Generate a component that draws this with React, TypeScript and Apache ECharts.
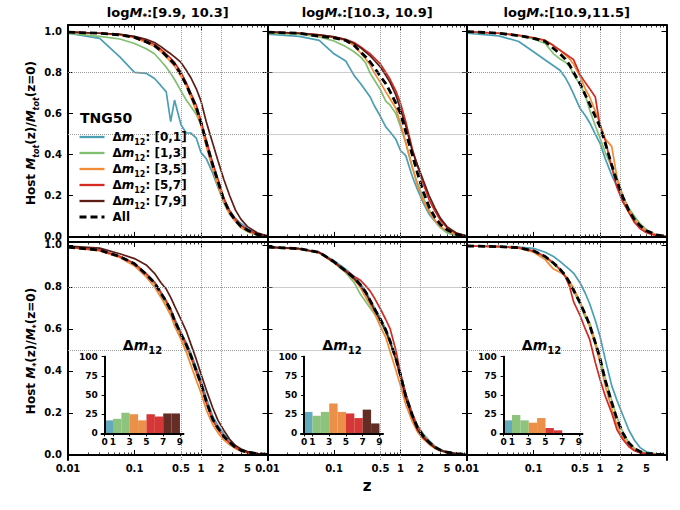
import React, { useEffect, useRef } from "react";
import * as echarts from "echarts";

// shared redshift sampling for every curve
const Z = [0.01, 0.03, 0.06, 0.1, 0.15, 0.2, 0.25, 0.3, 0.35, 0.4, 0.5, 0.6, 0.7, 0.85, 1.0, 1.2, 1.5, 1.8, 2.2, 2.7, 3.3, 4, 5, 7, 10];

const GROUPS = ["[0,1]", "[1,3]", "[3,5]", "[5,7]", "[7,9]", "All"];
const LINE_COLORS = ["#4a9fb4", "#80c070", "#f28a36", "#d42a22", "#5e1c14", "#000000"];
const BAR_COLORS = ["#56a3b6", "#82bf72", "#ea8539", "#d02624", "#561b14"];
const MASS_BINS = ["[9.9, 10.3]", "[10.3, 10.9]", "[10.9,11.5]"];

const X_MAJOR = [0.01, 0.1, 1, 10];
const X_MINOR = [0.02, 0.03, 0.04, 0.05, 0.06, 0.07, 0.08, 0.09, 0.2, 0.3, 0.4, 0.5, 0.6, 0.7, 0.8, 0.9, 2, 3, 4, 5, 6, 7, 8, 9];
const X_LABELS = [0.01, 0.1, 0.5, 1, 2, 5];
const Y_TICKS = [0, 0.2, 0.4, 0.6, 0.8, 1.0];
const X_GRIDLINES = [0.5, 1, 2];
const Y_GRIDLINES = [0.5, 0.8];

// host total mass fraction, top row
const totA_01 = [0.99, 0.965, 0.875, 0.8, 0.795, 0.77, 0.735, 0.705, 0.56, 0.665, 0.545, 0.505, 0.505, 0.48, 0.41, 0.38, 0.31, 0.24, 0.18, 0.13, 0.09, 0.065, 0.04, 0.015, 0.003];
const totA_13 = [0.99, 0.975, 0.962, 0.94, 0.915, 0.89, 0.855, 0.825, 0.795, 0.765, 0.71, 0.665, 0.635, 0.595, 0.545, 0.46, 0.33, 0.245, 0.165, 0.11, 0.075, 0.045, 0.025, 0.008, 0.002];
const totA_35 = [0.995, 0.99, 0.982, 0.968, 0.945, 0.925, 0.9, 0.875, 0.85, 0.83, 0.78, 0.735, 0.68, 0.61, 0.54, 0.44, 0.33, 0.25, 0.17, 0.11, 0.075, 0.045, 0.028, 0.01, 0.002];
const totA_57 = [0.995, 0.99, 0.984, 0.972, 0.952, 0.935, 0.912, 0.888, 0.868, 0.848, 0.8, 0.75, 0.7, 0.64, 0.565, 0.47, 0.36, 0.28, 0.19, 0.125, 0.085, 0.055, 0.035, 0.013, 0.003];
const totA_79 = [0.997, 0.99, 0.985, 0.975, 0.96, 0.945, 0.925, 0.905, 0.89, 0.875, 0.848, 0.81, 0.775, 0.72, 0.66, 0.56, 0.455, 0.37, 0.28, 0.2, 0.13, 0.085, 0.05, 0.02, 0.004];
const totA_all = [0.995, 0.99, 0.982, 0.97, 0.948, 0.93, 0.905, 0.88, 0.86, 0.84, 0.79, 0.74, 0.69, 0.63, 0.555, 0.46, 0.35, 0.27, 0.18, 0.12, 0.08, 0.05, 0.033, 0.012, 0.003];

const totB_01 = [0.985, 0.975, 0.955, 0.89, 0.855, 0.785, 0.746, 0.71, 0.68, 0.64, 0.585, 0.535, 0.51, 0.475, 0.42, 0.395, 0.295, 0.23, 0.165, 0.11, 0.075, 0.045, 0.022, 0.006, 0.001];
const totB_13 = [0.99, 0.985, 0.972, 0.952, 0.925, 0.9, 0.875, 0.845, 0.795, 0.765, 0.715, 0.66, 0.64, 0.6, 0.535, 0.455, 0.34, 0.26, 0.19, 0.13, 0.08, 0.045, 0.02, 0.006, 0.001];
const totB_35 = [0.995, 0.99, 0.978, 0.968, 0.955, 0.93, 0.895, 0.865, 0.835, 0.8, 0.75, 0.705, 0.67, 0.625, 0.55, 0.46, 0.34, 0.25, 0.175, 0.12, 0.08, 0.05, 0.03, 0.01, 0.002];
const totB_57 = [0.997, 0.99, 0.982, 0.972, 0.96, 0.945, 0.925, 0.905, 0.89, 0.872, 0.84, 0.8, 0.765, 0.71, 0.65, 0.56, 0.43, 0.345, 0.26, 0.18, 0.125, 0.08, 0.045, 0.015, 0.003];
const totB_79 = [0.997, 0.99, 0.982, 0.972, 0.958, 0.94, 0.92, 0.898, 0.88, 0.86, 0.825, 0.785, 0.75, 0.69, 0.62, 0.54, 0.42, 0.35, 0.275, 0.2, 0.14, 0.09, 0.05, 0.018, 0.004];
const totB_all = [0.995, 0.99, 0.975, 0.967, 0.955, 0.932, 0.9, 0.875, 0.85, 0.825, 0.78, 0.745, 0.705, 0.65, 0.6, 0.51, 0.4, 0.31, 0.22, 0.145, 0.095, 0.06, 0.035, 0.012, 0.003];

const totC_01 = [0.99, 0.977, 0.95, 0.9, 0.86, 0.832, 0.81, 0.775, 0.735, 0.695, 0.625, 0.59, 0.555, 0.5, 0.455, 0.38, 0.3, 0.245, 0.18, 0.12, 0.078, 0.05, 0.028, 0.008, 0.001];
const totC_13 = [0.995, 0.99, 0.978, 0.962, 0.94, 0.89, 0.865, 0.85, 0.828, 0.79, 0.74, 0.69, 0.617, 0.54, 0.48, 0.41, 0.34, 0.28, 0.197, 0.14, 0.1, 0.065, 0.035, 0.01, 0.002];
const totC_35 = [0.998, 0.99, 0.98, 0.968, 0.955, 0.93, 0.908, 0.885, 0.865, 0.84, 0.78, 0.72, 0.68, 0.61, 0.55, 0.475, 0.44, 0.29, 0.2, 0.135, 0.085, 0.055, 0.03, 0.01, 0.002];
const totC_57 = [0.998, 0.99, 0.98, 0.968, 0.955, 0.93, 0.908, 0.89, 0.875, 0.862, 0.79, 0.75, 0.72, 0.68, 0.54, 0.47, 0.34, 0.24, 0.17, 0.12, 0.07, 0.04, 0.02, 0.006, 0.001];
const totC_all = [0.998, 0.99, 0.978, 0.965, 0.95, 0.916, 0.89, 0.865, 0.835, 0.8, 0.746, 0.69, 0.645, 0.585, 0.536, 0.455, 0.35, 0.27, 0.195, 0.13, 0.085, 0.055, 0.03, 0.01, 0.002];

// host stellar mass fraction, bottom row
const starA_01 = [0.99, 0.975, 0.945, 0.91, 0.862, 0.822, 0.775, 0.735, 0.695, 0.65, 0.585, 0.535, 0.487, 0.415, 0.355, 0.272, 0.185, 0.14, 0.1, 0.068, 0.042, 0.026, 0.015, 0.006, 0.002];
const starA_13 = [0.99, 0.974, 0.943, 0.907, 0.857, 0.815, 0.765, 0.722, 0.68, 0.632, 0.565, 0.515, 0.465, 0.39, 0.33, 0.245, 0.165, 0.122, 0.085, 0.057, 0.035, 0.021, 0.012, 0.005, 0.001];
const starA_35 = [0.99, 0.972, 0.94, 0.9, 0.848, 0.8, 0.75, 0.705, 0.665, 0.615, 0.55, 0.49, 0.43, 0.355, 0.295, 0.215, 0.145, 0.105, 0.072, 0.048, 0.03, 0.018, 0.01, 0.004, 0.001];
const starA_57 = [0.99, 0.976, 0.946, 0.912, 0.863, 0.823, 0.773, 0.733, 0.692, 0.642, 0.578, 0.525, 0.472, 0.397, 0.335, 0.25, 0.167, 0.125, 0.086, 0.058, 0.035, 0.021, 0.012, 0.005, 0.001];
const starA_79 = [0.995, 0.985, 0.958, 0.935, 0.905, 0.865, 0.82, 0.79, 0.75, 0.71, 0.645, 0.59, 0.53, 0.455, 0.385, 0.31, 0.225, 0.165, 0.118, 0.075, 0.045, 0.028, 0.016, 0.007, 0.002];
const starA_all = [0.99, 0.975, 0.945, 0.91, 0.86, 0.82, 0.77, 0.73, 0.69, 0.64, 0.575, 0.525, 0.475, 0.4, 0.34, 0.255, 0.17, 0.128, 0.088, 0.06, 0.036, 0.022, 0.013, 0.006, 0.002];

const starB_01 = [0.99, 0.982, 0.965, 0.925, 0.885, 0.85, 0.815, 0.78, 0.74, 0.705, 0.65, 0.6, 0.545, 0.465, 0.385, 0.29, 0.2, 0.14, 0.1, 0.068, 0.042, 0.026, 0.015, 0.006, 0.002];
const starB_13 = [0.99, 0.982, 0.962, 0.915, 0.868, 0.822, 0.765, 0.73, 0.7, 0.675, 0.63, 0.585, 0.535, 0.46, 0.385, 0.29, 0.2, 0.14, 0.095, 0.063, 0.038, 0.024, 0.013, 0.006, 0.002];
const starB_35 = [0.99, 0.98, 0.962, 0.915, 0.872, 0.835, 0.797, 0.75, 0.715, 0.68, 0.61, 0.56, 0.49, 0.405, 0.33, 0.24, 0.16, 0.11, 0.075, 0.05, 0.03, 0.019, 0.011, 0.005, 0.001];
const starB_57 = [0.99, 0.982, 0.965, 0.92, 0.878, 0.85, 0.832, 0.805, 0.78, 0.75, 0.695, 0.645, 0.6, 0.5, 0.39, 0.29, 0.195, 0.135, 0.09, 0.06, 0.037, 0.023, 0.013, 0.006, 0.002];
const starB_79 = [0.99, 0.982, 0.964, 0.918, 0.874, 0.84, 0.806, 0.77, 0.73, 0.695, 0.64, 0.59, 0.535, 0.455, 0.37, 0.27, 0.18, 0.12, 0.082, 0.055, 0.034, 0.021, 0.012, 0.005, 0.001];
const starB_all = [0.99, 0.982, 0.965, 0.92, 0.876, 0.844, 0.81, 0.775, 0.735, 0.7, 0.645, 0.595, 0.54, 0.46, 0.38, 0.28, 0.19, 0.13, 0.09, 0.06, 0.037, 0.023, 0.013, 0.006, 0.002];

const starC_01 = [0.995, 0.993, 0.99, 0.984, 0.965, 0.945, 0.922, 0.9, 0.882, 0.866, 0.82, 0.77, 0.72, 0.64, 0.565, 0.455, 0.33, 0.26, 0.19, 0.12, 0.07, 0.035, 0.015, 0.004, 0.001];
const starC_13 = [0.995, 0.992, 0.985, 0.968, 0.94, 0.91, 0.88, 0.85, 0.815, 0.78, 0.72, 0.655, 0.63, 0.54, 0.465, 0.365, 0.26, 0.18, 0.11, 0.06, 0.032, 0.017, 0.008, 0.003, 0.001];
const starC_35 = [0.995, 0.992, 0.985, 0.965, 0.93, 0.885, 0.87, 0.855, 0.825, 0.795, 0.73, 0.67, 0.61, 0.525, 0.44, 0.33, 0.22, 0.14, 0.085, 0.048, 0.025, 0.013, 0.007, 0.003, 0.001];
const starC_57 = [0.995, 0.992, 0.987, 0.972, 0.945, 0.914, 0.885, 0.85, 0.8, 0.73, 0.665, 0.6, 0.55, 0.44, 0.36, 0.28, 0.2, 0.12, 0.075, 0.04, 0.02, 0.01, 0.006, 0.002, 0.001];
const starC_all = [0.995, 0.992, 0.987, 0.972, 0.945, 0.914, 0.885, 0.855, 0.82, 0.785, 0.725, 0.67, 0.617, 0.535, 0.46, 0.355, 0.25, 0.17, 0.105, 0.058, 0.03, 0.016, 0.008, 0.003, 0.001];

// inset histograms of delta m12 (percent per unit bin)
const BIN_EDGES = [0, 1, 2, 3, 4, 5, 6, 7, 8, 9];
const BIN_GROUP = [0, 1, 1, 2, 2, 3, 3, 4, 4];
const HIST_A = [17, 19, 27, 25, 17, 25, 22, 26, 26];
const HIST_B = [28, 23, 28, 39, 28, 26, 20, 31, 13];
const HIST_C = [17, 24, 17, 14, 20, 7, 4, 0, 0];
const HIST_TICKS = [0, 1, 3, 5, 7, 9];

const PANEL_LINES = [
  [totA_01, totA_13, totA_35, totA_57, totA_79, totA_all],
  [totB_01, totB_13, totB_35, totB_57, totB_79, totB_all],
  [totC_01, totC_13, totC_35, totC_57, null, totC_all],
  [starA_01, starA_13, starA_35, starA_57, starA_79, starA_all],
  [starB_01, starB_13, starB_35, starB_57, starB_79, starB_all],
  [starC_01, starC_13, starC_35, starC_57, null, starC_all],
];
const HISTS = [HIST_A, HIST_B, HIST_C];

const FONT = "DejaVu Sans";
const COL_LEFT = [68, 267.5, 467];
const COL_W = 199.5;
const ROW_TOP = [25, 242];
const ROW_H = [216, 218];
const ROW_YMIN = [-0.02, -0.024];
const ROW_YMAX = [1.03, 1.014];

const rich = (size: number) => {
  const sub = Math.round(size * 0.7);
  const base = { fontFamily: FONT, fontWeight: "bold", color: "#000", fill: "#000" };
  return {
    b: { ...base, fontSize: size, lineHeight: size + 6, verticalAlign: "middle" },
    m: { ...base, fontStyle: "italic", fontSize: size, lineHeight: size + 6, verticalAlign: "middle" },
    s: { ...base, fontSize: sub, lineHeight: sub + 2, verticalAlign: "bottom" },
    si: { ...base, fontStyle: "italic", fontSize: sub, lineHeight: sub + 2, verticalAlign: "bottom" },
    g: { width: 3 },
  };
};

const black = { color: "#000", width: 2 };
const tickText = { fontFamily: FONT, fontWeight: "bold", color: "#000" };

const App = () => {
  const chartRef = useRef<HTMLDivElement>(null);

  useEffect(() => {
    const chart = echarts.init(chartRef.current, null, { renderer: "svg" });

    const grid: any[] = [];
    const xAxis: any[] = [];
    const yAxis: any[] = [];
    const series: any[] = [];

    PANEL_LINES.forEach((lines, p) => {
      const r = Math.floor(p / 3);
      const c = p % 3;
      grid.push({ left: COL_LEFT[c], top: ROW_TOP[r], width: COL_W, height: ROW_H[r] });

      const xi = xAxis.length;
      const baseX = { type: "log", logBase: 10, min: 0.01, max: 10, gridIndex: p, splitLine: { show: false }, z: 3 };
      ["bottom", "top"].forEach((pos) => {
        xAxis.push({
          ...baseX,
          position: pos,
          axisLine: { show: true, lineStyle: black },
          axisTick: { show: true, inside: true, length: 5, customValues: X_MAJOR, lineStyle: { color: "#000", width: 1 } },
          axisLabel: {
            show: pos === "bottom" && r === 1,
            customValues: X_LABELS,
            formatter: (v: number) => String(v),
            fontSize: 10,
            margin: 3,
            ...tickText,
          },
        });
        xAxis.push({
          ...baseX,
          position: pos,
          axisLine: { show: false },
          axisTick: { show: true, inside: true, length: 2.5, customValues: X_MINOR, lineStyle: { color: "#000", width: 0.8 } },
          axisLabel: { show: false },
        });
      });

      const yi = yAxis.length;
      ["left", "right"].forEach((pos) => {
        yAxis.push({
          type: "value",
          gridIndex: p,
          position: pos,
          min: ROW_YMIN[r],
          max: ROW_YMAX[r],
          z: 3,
          splitLine: { show: false },
          axisLine: { show: true, lineStyle: black },
          axisTick: { show: true, inside: true, length: 5, customValues: Y_TICKS, lineStyle: { color: "#000", width: 1 } },
          axisLabel: {
            show: pos === "left" && c === 0,
            customValues: Y_TICKS,
            formatter: (v: number) => v.toFixed(1),
            fontSize: 10,
            margin: 6,
            ...tickText,
          },
        });
      });

      // dotted reference grid
      series.push({
        type: "line",
        name: "_grid" + p,
        xAxisIndex: xi,
        yAxisIndex: yi,
        data: [],
        silent: true,
        z: 1,
        markLine: {
          silent: true,
          symbol: ["none", "none"],
          label: { show: false },
          lineStyle: { type: "dotted", color: "#9a9a9a", width: 1 },
          data: [...Y_GRIDLINES.map((v) => ({ yAxis: v })), ...X_GRIDLINES.map((v) => ({ xAxis: v }))],
        },
      });

      lines.forEach((ys, k) => {
        if (!ys) return;
        const isAll = k === 5;
        series.push({
          type: "line",
          name: GROUPS[k],
          xAxisIndex: xi,
          yAxisIndex: yi,
          data: Z.map((z, i) => [z, ys[i]]),
          symbol: "none",
          showSymbol: false,
          z: 2,
          lineStyle: isAll
            ? { color: "#000", width: 2.8, type: [7, 4] }
            : { color: LINE_COLORS[k], width: 1.7 },
          itemStyle: { color: LINE_COLORS[k] },
        });
      });
    });

    // insets with histograms
    HISTS.forEach((hist, c) => {
      const gi = grid.length;
      grid.push({
        left: COL_LEFT[c] + 33.7,
        top: 356.7,
        width: 81.6,
        height: 76.7,
        show: true,
        backgroundColor: "#fff",
        borderWidth: 0,
        z: 5,
      });
      const xi = xAxis.length;
      ["bottom", "top"].forEach((pos) => {
        xAxis.push({
          type: "value",
          gridIndex: gi,
          position: pos,
          min: -0.35,
          max: 9.4,
          z: 7,
          splitLine: { show: false },
          axisLine: { show: true, lineStyle: black },
          axisTick: { show: pos === "bottom", inside: false, length: 3, customValues: HIST_TICKS, lineStyle: { color: "#000" } },
          axisLabel: { show: pos === "bottom", customValues: HIST_TICKS, fontSize: 9, margin: 4, ...tickText },
        });
      });
      const yi = yAxis.length;
      ["left", "right"].forEach((pos) => {
        yAxis.push({
          type: "value",
          gridIndex: gi,
          position: pos,
          min: 0,
          max: 100,
          interval: 25,
          z: 7,
          splitLine: { show: false },
          axisLine: { show: true, lineStyle: black },
          axisTick: { show: pos === "left", inside: false, length: 3, lineStyle: { color: "#000" } },
          axisLabel: { show: pos === "left", fontSize: 9, margin: 4, ...tickText },
        });
      });
      series.push({
        type: "custom",
        name: "_hist" + c,
        xAxisIndex: xi,
        yAxisIndex: yi,
        z: 6,
        data: hist.map((v, i) => [BIN_EDGES[i], BIN_EDGES[i + 1], v, BIN_GROUP[i]]),
        renderItem: (_params: any, api: any) => {
          const a = api.coord([api.value(0), api.value(2)]);
          const b = api.coord([api.value(1), 0]);
          return {
            type: "rect",
            shape: { x: a[0], y: a[1], width: b[0] - a[0], height: b[1] - a[1] },
            style: { fill: BAR_COLORS[api.value(3)], opacity: 0.92 },
          };
        },
      });
    });

    const graphic: any[] = [];
    MASS_BINS.forEach((bin, c) => {
      graphic.push({
        type: "text",
        x: COL_LEFT[c] + COL_W / 2,
        y: 12,
        style: { text: `{b|log}{m|M}{s|*}{b|:${bin}}`, rich: rich(13), align: "center", verticalAlign: "middle" },
      });
      graphic.push({
        type: "text",
        x: COL_LEFT[c] + 33.7 + 40.8,
        y: 345,
        z: 8,
        style: { text: "{b|Δ}{m|m}{s|12}", rich: rich(14), align: "center", verticalAlign: "middle" },
      });
    });
    graphic.push({
      type: "text",
      x: 31,
      y: 133,
      rotation: Math.PI / 2,
      style: { text: "{b|Host }{m|M}{si|tot}{b|(z)/}{m|M}{si|tot}{b|(z=0)}", rich: rich(12), align: "center", verticalAlign: "middle" },
    });
    graphic.push({
      type: "text",
      x: 31,
      y: 351,
      rotation: Math.PI / 2,
      style: { text: "{b|Host }{m|M}{s|*}{b|(z)/}{m|M}{s|*}{b|(z=0)}", rich: rich(12), align: "center", verticalAlign: "middle" },
    });
    graphic.push({
      type: "text",
      x: 367,
      y: 486,
      style: { text: "{b|z}", rich: rich(15), align: "center", verticalAlign: "middle" },
    });
    graphic.push({
      type: "text",
      x: 80,
      y: 118,
      z: 8,
      style: { text: "{b|TNG50}", rich: rich(14), align: "left", verticalAlign: "middle" },
    });

    const option = {
      animation: false,
      textStyle: { fontFamily: FONT },
      grid,
      xAxis,
      yAxis,
      series,
      graphic,
      legend: {
        data: GROUPS.map((name, k) => ({
          name,
          lineStyle:
            name === "All"
              ? { color: "#000", width: 3, type: [7, 4] }
              : { color: LINE_COLORS[k], width: 2.3, type: "solid" },
        })),
        orient: "vertical",
        left: 78,
        top: 131,
        z: 10,
        padding: 0,
        itemWidth: 25,
        itemHeight: 12,
        itemGap: 1,
        selectedMode: false,
        itemStyle: { opacity: 0 },
        textStyle: { fontFamily: FONT, fontWeight: "bold", fontSize: 12, color: "#000", rich: rich(12) },
        formatter: (name: string) =>
          name === "All" ? "{g|}{b|All}" : `{g|}{b|Δ}{m|m}{s|12}{b|: ${name}}`,
      },
    };

    chart.setOption(option);

    return () => {
      chart.dispose();
    };
  }, []);

  return (
    <div
      ref={chartRef}
      style={{ position: "absolute", left: 0, top: 0, width: 680, height: 510 }}
    />
  );
};

export default App;
